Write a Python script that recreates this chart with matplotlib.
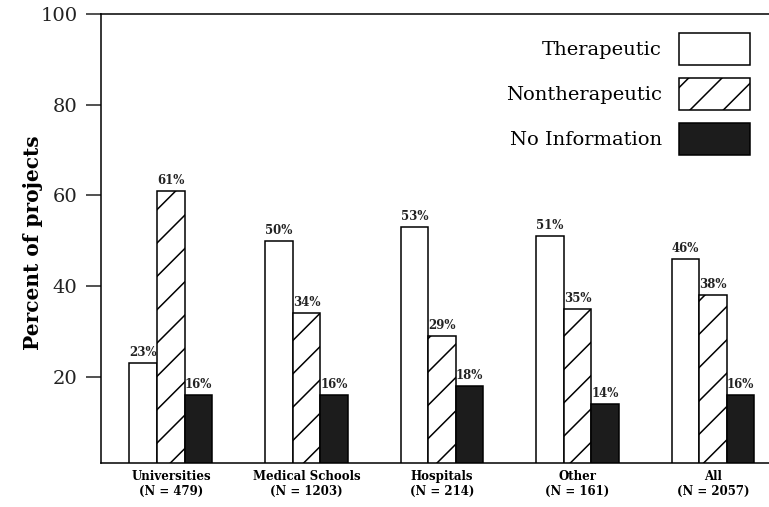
import numpy as np
import matplotlib
matplotlib.use("Agg")
from matplotlib import pyplot as plt
from matplotlib.patches import Patch

groups = ["Universities\n(N = 479)", "Medical Schools\n(N = 1203)", "Hospitals\n(N = 214)",
          "Other\n(N = 161)", "All\n(N = 2057)"]
therapeutic = [23, 50, 53, 51, 46]
nontherapeutic = [61, 34, 29, 35, 38]
no_info = [16, 16, 18, 14, 16]
series_names = ["Therapeutic", "Nontherapeutic", "No Information"]

plt.rcParams['font.family'] = ['DejaVu Serif']
plt.rcParams['hatch.linewidth'] = 1.1

fig = plt.figure(figsize=(7.69, 5.07), dpi=100)
ax = fig.add_axes([101/769, 44/507, 668/769, 449/507])

x = np.arange(len(groups))
w = 0.204
styles = [dict(facecolor="white", hatch=None),
          dict(facecolor="white", hatch="/"),
          dict(facecolor="#1c1c1c", hatch=None)]
for i, vals in enumerate([therapeutic, nontherapeutic, no_info]):
    bars = ax.bar(x + (i - 1) * w, vals, w, edgecolor="black", linewidth=1.1, **styles[i])
    # percentage labels on top of each bar
    ax.bar_label(bars, labels=[f"{v}%" for v in vals], padding=3,
                 fontsize=8.5, fontweight="bold", color="#222222")

ax.set_xlim(-0.516, 4.413)
ax.set_ylim(1, 100)
ax.set_yticks([20, 40, 60, 80, 100])
ax.tick_params(axis="y", length=11, width=1.1, pad=6, labelsize=14, colors="#222222")
ax.set_xticks(x)
ax.set_xticklabels(groups, fontsize=8.5, fontweight="bold", linespacing=1.25)
ax.tick_params(axis="x", length=0, pad=5)
ax.spines["right"].set_visible(False)
for s in ["left", "top", "bottom"]:
    ax.spines[s].set_linewidth(1.1)

ax.set_ylabel("Percent of projects", fontsize=14.5, fontweight="bold")
ax.yaxis.set_label_coords(-0.087, 0.49)

handles = [Patch(edgecolor="black", linewidth=1.1, **st) for st in styles]
ax.legend(handles, series_names, loc="upper right", bbox_to_anchor=(0.9715, 0.9577),
          frameon=False, markerfirst=False, fontsize=14, handlelength=3.66,
          handleheight=2.16, labelspacing=0.67, handletextpad=0.88,
          borderpad=0, borderaxespad=0)

fig.savefig("out.png", dpi=100)
